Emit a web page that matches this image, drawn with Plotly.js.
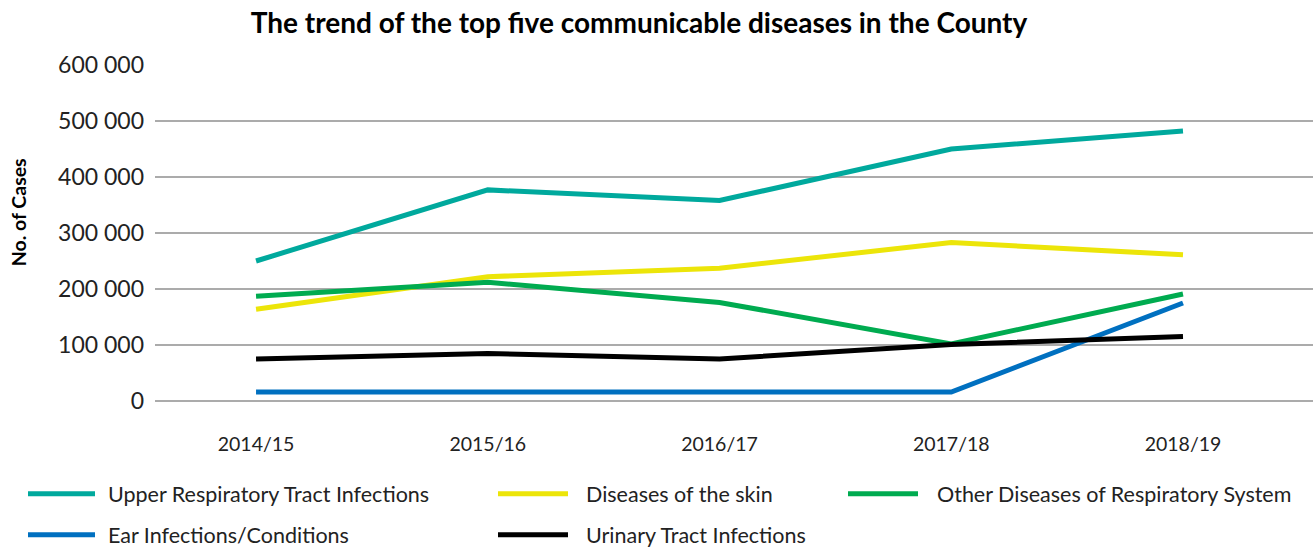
<!DOCTYPE html>
<html>
<head>
<meta charset="utf-8">
<script src="https://cdn.plot.ly/plotly-3.0.1.min.js"></script>
<style>
html,body{margin:0;padding:0;background:#fff;}
#chart{width:1316px;height:549px;}
</style>
</head>
<body>
<div id="chart"></div>
<script>
const years = ["2014/15", "2015/16", "2016/17", "2017/18", "2018/19"];
const seriesNames = [
  "Upper Respiratory Tract Infections",
  "Diseases of the skin",
  "Other Diseases of Respiratory System",
  "Ear Infections/Conditions",
  "Urinary Tract Infections"
];
const upperRespiratory = [250000, 377000, 358000, 450000, 482000];
const skinDiseases = [164000, 222000, 237000, 283000, 261000];
const otherRespiratory = [187000, 212000, 176000, 102000, 191000];
const earInfections = [16000, 16000, 16000, 16000, 175000];
const urinaryTract = [75000, 85000, 75000, 101000, 115000];
const yTicks = [0, 100000, 200000, 300000, 400000, 500000, 600000];

const seriesValues = [upperRespiratory, skinDiseases, otherRespiratory, earInfections, urinaryTract];
const colors = ["#00A99D", "#ECE509", "#00AB50", "#0070C0", "#000000"];
const FONT = "Lato, 'Open Sans', sans-serif";

const traces = seriesValues.map((vals, i) => ({
  type: "scatter", mode: "lines", x: years, y: vals, name: seriesNames[i],
  line: {color: colors[i], width: 5}, showlegend: false, hoverinfo: "skip"
}));

// plot area in pixels
const L = 155, R = 1313, T = 64.5, B = 401;
const px = x => (x - L) / (R - L);
const py = y => (B - y) / (B - T);

// manual legend (long line symbols)
const legendPos = [
  {x0: 28, x1: 95, tx: 106, y: 494},
  {x0: 498, x1: 568, tx: 584, y: 494},
  {x0: 848, x1: 918, tx: 935, y: 494},
  {x0: 28, x1: 95, tx: 106, y: 535},
  {x0: 498, x1: 568, tx: 584, y: 535}
];
const shapes = legendPos.map((p, i) => ({
  type: "line", xref: "paper", yref: "paper",
  x0: px(p.x0), x1: px(p.x1), y0: py(p.y), y1: py(p.y),
  line: {color: colors[i], width: 5}
}));
const annotations = legendPos.map((p, i) => ({
  xref: "paper", yref: "paper", x: px(p.tx), y: py(p.y),
  xanchor: "left", yanchor: "middle", showarrow: false,
  text: seriesNames[i], font: {family: FONT, size: 21.5, color: "#222"}
}));
annotations.push({
  xref: "paper", yref: "paper", x: px(18), y: py(212),
  xanchor: "center", yanchor: "middle", showarrow: false, textangle: -90,
  text: "<b>No. of Cases</b>", font: {family: FONT, size: 19.5, color: "#000"}
});

const layout = {
  width: 1316, height: 549,
  margin: {l: L, r: 1316 - R, t: T, b: 549 - B},
  paper_bgcolor: "#fff", plot_bgcolor: "#fff",
  separators: ". ",
  title: {
    text: "<b>The trend of the top five communicable diseases in the County</b>",
    font: {family: FONT, size: 28, color: "#000"},
    x: px(639), xref: "paper", xanchor: "center", y: 1 - 23 / 549, yanchor: "middle"
  },
  xaxis: {
    type: "category", range: [-0.436, 4.561],
    showgrid: false, zeroline: false, showline: false, ticks: "",
    tickfont: {family: FONT, size: 19.5, color: "#222"},
    ticklabelstandoff: 29
  },
  yaxis: {
    range: [0, 600000], tickvals: yTicks, tickformat: ",d",
    showgrid: true, gridcolor: "#ababab", gridwidth: 1.5,
    zeroline: true, zerolinecolor: "#ababab", zerolinewidth: 1.5,
    showline: false, ticks: "",
    tickfont: {family: FONT, size: 23, color: "#222"},
    ticklabelstandoff: 10
  },
  shapes: shapes,
  annotations: annotations,
  showlegend: false
};

Plotly.newPlot("chart", traces, layout, {displayModeBar: false, staticPlot: true});
</script>
</body>
</html>
